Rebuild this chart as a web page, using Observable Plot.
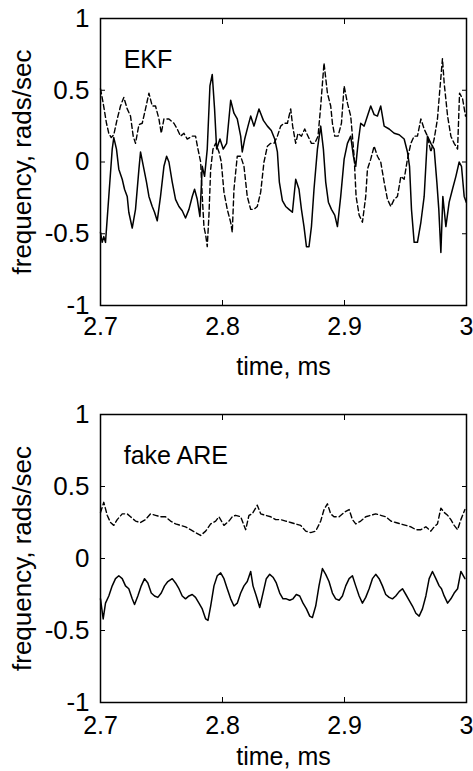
<!DOCTYPE html>
<html>
<head>
<meta charset="utf-8">
<script src="https://cdn.jsdelivr.net/npm/d3@7"></script>
<script src="https://cdn.jsdelivr.net/npm/@observablehq/plot@0.6"></script>
<style>
  html, body { margin: 0; padding: 0; background: #fff; }
  #chart { width: 473px; }
  #chart svg { display: block; }
</style>
</head>
<body>
<div id="chart"></div>
<script>
// ---- tick labels ----
const xTicks = [2.7, 2.8, 2.9, 3];
const yTicks = [-1, -0.5, 0, 0.5, 1];
const panelLabels = ["EKF", "fake ARE"];
const xLabel = "time, ms";
const yLabel = "frequency, rads/sec";

// ---- EKF panel: [time (ms), frequency (rads/sec)] ----
const ekfSolid = [
  [2.7000,-0.49],[2.7014,-0.56],[2.7027,-0.52],[2.7041,-0.56],[2.7068,-0.24],[2.7096,0.09],[2.7109,0.17],
  [2.7131,0.09],[2.7150,-0.05],[2.7178,-0.12],[2.7197,-0.19],[2.7219,-0.24],[2.7232,-0.35],[2.7260,-0.46],
  [2.7287,-0.33],[2.7315,-0.05],[2.7328,0.07],[2.7356,-0.05],[2.7377,-0.14],[2.7397,-0.24],[2.7424,-0.31],
  [2.7443,-0.35],[2.7465,-0.41],[2.7492,-0.24],[2.7520,-0.03],[2.7542,0.04],[2.7561,0.00],[2.7588,-0.14],
  [2.7615,-0.26],[2.7643,-0.31],[2.7670,-0.34],[2.7697,-0.39],[2.7725,-0.33],[2.7752,-0.24],[2.7771,-0.19],
  [2.7793,-0.26],[2.7815,-0.38],[2.7834,-0.03],[2.7853,-0.10],[2.7875,0.09],[2.7897,0.53],[2.7916,0.61],
  [2.7935,0.37],[2.7952,0.09],[2.7979,0.16],[2.8006,0.09],[2.8034,0.13],[2.8067,0.43],[2.8094,0.34],
  [2.8121,0.30],[2.8149,0.18],[2.8162,0.07],[2.8182,0.16],[2.8209,0.25],[2.8231,0.32],[2.8258,0.25],
  [2.8299,0.37],[2.8335,0.29],[2.8368,0.25],[2.8400,0.22],[2.8428,0.16],[2.8450,0.07],[2.8466,-0.14],
  [2.8491,-0.27],[2.8518,-0.31],[2.8545,-0.33],[2.8573,-0.35],[2.8600,-0.12],[2.8627,-0.19],[2.8647,-0.33],
  [2.8668,-0.45],[2.8688,-0.59],[2.8709,-0.59],[2.8729,-0.45],[2.8750,-0.19],[2.8778,0.09],[2.8805,0.25],
  [2.8827,0.09],[2.8846,-0.14],[2.8868,-0.28],[2.8893,-0.33],[2.8920,-0.37],[2.8942,-0.45],[2.8969,-0.24],
  [2.8997,0.02],[2.9024,0.13],[2.9051,0.18],[2.9073,0.04],[2.9092,-0.03],[2.9111,0.13],[2.9133,0.27],
  [2.9161,0.25],[2.9188,0.32],[2.9215,0.39],[2.9243,0.33],[2.9270,0.32],[2.9297,0.39],[2.9325,0.25],
  [2.9366,0.23],[2.9407,0.20],[2.9448,0.19],[2.9489,0.16],[2.9516,0.07],[2.9533,-0.03],[2.9549,-0.33],
  [2.9571,-0.56],[2.9598,-0.56],[2.9626,-0.42],[2.9653,-0.24],[2.9680,0.18],[2.9708,0.13],[2.9735,0.09],
  [2.9757,-0.14],[2.9773,-0.33],[2.9790,-0.63],[2.9806,-0.24],[2.9831,-0.45],[2.9858,-0.28],[2.9885,-0.19],
  [2.9913,-0.10],[2.9940,0.00],[2.9959,-0.03],[2.9981,-0.24],[2.9998,-0.28]
];
const ekfDashed = [
  [2.7000,0.51],[2.7022,0.41],[2.7049,0.27],[2.7068,0.20],[2.7088,0.17],[2.7109,0.19],[2.7137,0.30],
  [2.7164,0.39],[2.7191,0.45],[2.7219,0.37],[2.7246,0.32],[2.7268,0.18],[2.7287,0.13],[2.7315,0.26],
  [2.7342,0.27],[2.7369,0.37],[2.7397,0.48],[2.7424,0.39],[2.7451,0.39],[2.7479,0.30],[2.7498,0.20],
  [2.7520,0.30],[2.7561,0.30],[2.7602,0.27],[2.7629,0.23],[2.7656,0.18],[2.7684,0.20],[2.7711,0.16],
  [2.7752,0.18],[2.7779,0.18],[2.7799,0.09],[2.7821,0.00],[2.7834,-0.24],[2.7848,-0.45],[2.7864,-0.52],
  [2.7875,-0.59],[2.7889,-0.37],[2.7903,-0.05],[2.7922,0.09],[2.7944,0.13],[2.7971,0.07],[2.7990,0.00],
  [2.8012,-0.21],[2.8039,-0.33],[2.8067,-0.42],[2.8080,-0.49],[2.8094,-0.19],[2.8121,0.04],[2.8149,0.04],
  [2.8176,-0.03],[2.8203,-0.24],[2.8231,-0.33],[2.8258,-0.33],[2.8285,-0.31],[2.8313,-0.21],[2.8340,0.00],
  [2.8368,0.11],[2.8395,0.13],[2.8422,0.13],[2.8450,0.18],[2.8477,0.25],[2.8504,0.27],[2.8532,0.27],
  [2.8559,0.37],[2.8575,0.25],[2.8600,0.13],[2.8619,0.20],[2.8647,0.18],[2.8674,0.23],[2.8701,0.18],
  [2.8729,0.13],[2.8756,0.13],[2.8783,0.18],[2.8805,0.39],[2.8832,0.69],[2.8860,0.48],[2.8887,0.39],
  [2.8901,0.27],[2.8920,0.18],[2.8947,0.18],[2.8975,0.27],[2.8997,0.53],[2.9024,0.41],[2.9051,0.32],
  [2.9079,0.04],[2.9095,-0.24],[2.9120,-0.37],[2.9147,-0.42],[2.9174,-0.24],[2.9188,-0.05],[2.9215,0.02],
  [2.9243,0.11],[2.9270,0.04],[2.9297,0.00],[2.9325,-0.14],[2.9352,-0.26],[2.9380,-0.31],[2.9407,-0.26],
  [2.9434,-0.24],[2.9462,-0.10],[2.9489,-0.12],[2.9516,0.02],[2.9544,0.13],[2.9571,0.18],[2.9598,0.18],
  [2.9626,0.30],[2.9653,0.23],[2.9680,0.18],[2.9708,0.07],[2.9735,0.16],[2.9762,0.30],[2.9779,0.48],
  [2.9803,0.72],[2.9817,0.55],[2.9845,0.32],[2.9872,0.18],[2.9899,0.13],[2.9927,0.09],[2.9943,0.48],
  [2.9968,0.44],[2.9992,0.32]
];

// ---- fake ARE panel ----
const areSolid = [
  [2.7000,-0.28],[2.7022,-0.42],[2.7041,-0.31],[2.7068,-0.26],[2.7096,-0.19],[2.7123,-0.14],[2.7150,-0.12],
  [2.7178,-0.14],[2.7205,-0.19],[2.7232,-0.21],[2.7260,-0.28],[2.7279,-0.32],[2.7306,-0.26],[2.7334,-0.19],
  [2.7361,-0.14],[2.7388,-0.17],[2.7416,-0.24],[2.7443,-0.26],[2.7470,-0.27],[2.7498,-0.24],[2.7525,-0.19],
  [2.7552,-0.16],[2.7588,-0.14],[2.7615,-0.17],[2.7643,-0.21],[2.7670,-0.26],[2.7697,-0.28],[2.7725,-0.26],
  [2.7752,-0.25],[2.7779,-0.27],[2.7807,-0.31],[2.7834,-0.35],[2.7862,-0.42],[2.7881,-0.43],[2.7903,-0.33],
  [2.7930,-0.19],[2.7957,-0.12],[2.7985,-0.10],[2.8012,-0.14],[2.8039,-0.21],[2.8067,-0.28],[2.8094,-0.33],
  [2.8121,-0.31],[2.8149,-0.24],[2.8176,-0.19],[2.8203,-0.16],[2.8231,-0.09],[2.8250,-0.19],[2.8277,-0.26],
  [2.8305,-0.34],[2.8332,-0.24],[2.8359,-0.14],[2.8387,-0.11],[2.8414,-0.13],[2.8441,-0.17],[2.8469,-0.24],
  [2.8496,-0.28],[2.8523,-0.28],[2.8551,-0.29],[2.8578,-0.28],[2.8605,-0.25],[2.8633,-0.26],[2.8660,-0.31],
  [2.8688,-0.35],[2.8715,-0.40],[2.8737,-0.41],[2.8764,-0.33],[2.8791,-0.19],[2.8819,-0.07],[2.8846,-0.11],
  [2.8873,-0.16],[2.8901,-0.24],[2.8928,-0.28],[2.8956,-0.29],[2.8983,-0.26],[2.9010,-0.19],[2.9038,-0.14],
  [2.9065,-0.12],[2.9092,-0.19],[2.9120,-0.26],[2.9147,-0.31],[2.9174,-0.27],[2.9202,-0.21],[2.9229,-0.14],
  [2.9256,-0.11],[2.9284,-0.14],[2.9311,-0.19],[2.9338,-0.25],[2.9366,-0.27],[2.9393,-0.28],[2.9420,-0.26],
  [2.9448,-0.23],[2.9475,-0.21],[2.9503,-0.25],[2.9530,-0.29],[2.9557,-0.33],[2.9585,-0.38],[2.9612,-0.40],
  [2.9639,-0.35],[2.9667,-0.26],[2.9694,-0.14],[2.9721,-0.09],[2.9749,-0.14],[2.9776,-0.19],[2.9795,-0.21],
  [2.9817,-0.26],[2.9845,-0.31],[2.9872,-0.28],[2.9899,-0.24],[2.9927,-0.21],[2.9954,-0.09],[2.9987,-0.14]
];
const areDashed = [
  [2.7000,0.32],[2.7027,0.39],[2.7055,0.30],[2.7082,0.25],[2.7109,0.23],[2.7137,0.27],[2.7178,0.31],
  [2.7219,0.31],[2.7246,0.29],[2.7287,0.26],[2.7328,0.25],[2.7369,0.27],[2.7410,0.31],[2.7451,0.30],
  [2.7492,0.29],[2.7533,0.29],[2.7574,0.26],[2.7615,0.24],[2.7656,0.23],[2.7697,0.22],[2.7738,0.20],
  [2.7779,0.18],[2.7821,0.16],[2.7862,0.19],[2.7903,0.24],[2.7944,0.26],[2.7971,0.29],[2.8012,0.23],
  [2.8053,0.26],[2.8080,0.29],[2.8108,0.30],[2.8149,0.29],[2.8190,0.20],[2.8217,0.30],[2.8244,0.31],
  [2.8285,0.37],[2.8313,0.31],[2.8354,0.30],[2.8395,0.29],[2.8436,0.27],[2.8477,0.27],[2.8518,0.26],
  [2.8559,0.25],[2.8600,0.24],[2.8641,0.23],[2.8682,0.19],[2.8723,0.18],[2.8764,0.19],[2.8805,0.26],
  [2.8832,0.34],[2.8860,0.38],[2.8887,0.31],[2.8914,0.29],[2.8956,0.29],[2.8997,0.32],[2.9038,0.34],
  [2.9065,0.27],[2.9092,0.24],[2.9133,0.26],[2.9174,0.29],[2.9215,0.30],[2.9256,0.31],[2.9297,0.30],
  [2.9338,0.29],[2.9380,0.26],[2.9420,0.25],[2.9462,0.24],[2.9503,0.23],[2.9544,0.22],[2.9585,0.20],
  [2.9626,0.20],[2.9667,0.22],[2.9708,0.19],[2.9735,0.22],[2.9762,0.24],[2.9790,0.35],[2.9817,0.32],
  [2.9845,0.30],[2.9872,0.27],[2.9899,0.23],[2.9927,0.20],[2.9954,0.27],[2.9987,0.34]
];

const FONT = "'Liberation Sans', Arial, Helvetica, sans-serif";
const fmtX = d => String(d);
const fmtY = d => String(d);

function panel({solid, dashed, label, height, marginTop, marginBottom, xLabelOffset, xTickPad}) {
  return Plot.plot({
    width: 473,
    height,
    marginTop,
    marginBottom,
    marginLeft: 100,
    marginRight: 7,
    style: {fontFamily: FONT, fontSize: "25px", color: "#000", background: "#fff", overflow: "visible"},
    x: {domain: [2.7, 3]},
    y: {domain: [-1, 1]},
    marks: [
      Plot.line(dashed, {x: d => d[0], y: d => d[1], stroke: "#000", strokeWidth: 1.4, strokeDasharray: "5,3"}),
      Plot.line(solid, {x: d => d[0], y: d => d[1], stroke: "#000", strokeWidth: 1.5}),
      Plot.frame({stroke: "#000", strokeWidth: 1.5}),
      Plot.axisX({anchor: "bottom", ticks: xTicks, tickSize: -5, tickPadding: xTickPad, tickFormat: fmtX,
        label: xLabel, labelAnchor: "center", labelArrow: "none", labelOffset: xLabelOffset, fontSize: 25}),
      Plot.axisX({anchor: "top", ticks: xTicks, tickSize: -5, tickFormat: () => "", label: null}),
      Plot.axisY({anchor: "left", ticks: yTicks, tickSize: -5, tickPadding: 16, tickFormat: fmtY,
        label: yLabel, labelAnchor: "center", labelArrow: "none", labelOffset: 88, fontSize: 26}),
      Plot.axisY({anchor: "right", ticks: yTicks, tickSize: -5, tickFormat: () => "", label: null}),
      Plot.text([label], {x: [2.719], y: [0.71], text: d => d, textAnchor: "start", lineAnchor: "middle", fontSize: 25, fill: "#000"})
    ]
  });
}

const chart = document.getElementById("chart");
chart.append(panel({solid: ekfSolid, dashed: ekfDashed, label: panelLabels[0], height: 385, marginTop: 18, marginBottom: 80, xLabelOffset: 69, xTickPad: 17}));
chart.append(panel({solid: areSolid, dashed: areDashed, label: panelLabels[1], height: 386, marginTop: 29, marginBottom: 69, xLabelOffset: 62, xTickPad: 19}));
</script>
</body>
</html>
